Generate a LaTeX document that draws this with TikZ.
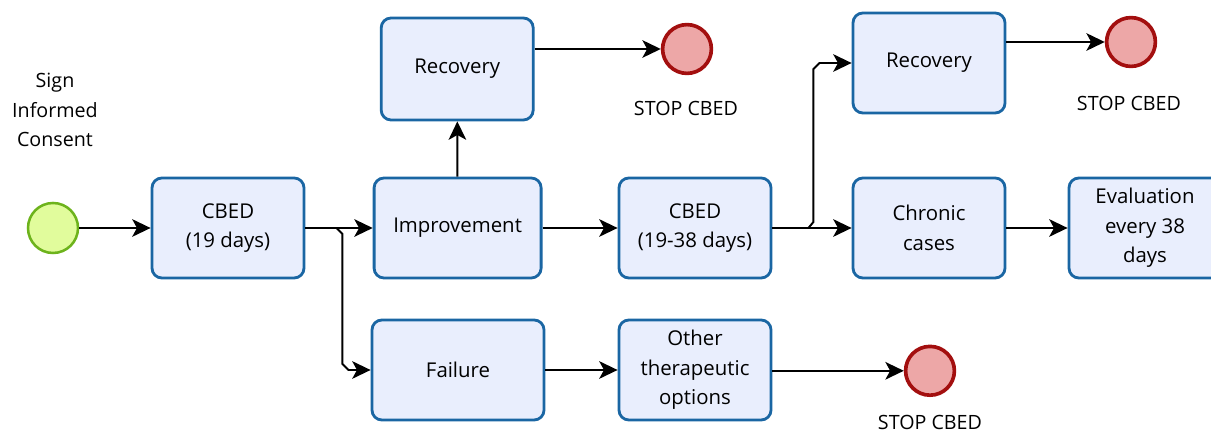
\documentclass[tikz,border=0pt]{standalone}
\usepackage{fontspec}
\setmainfont{Open Sans}
\usepackage{tikz}
\usetikzlibrary{arrows.meta, positioning, calc}
\usepackage{xcolor}
\definecolor{boxfill}{HTML}{E9EEFD}
\definecolor{boxline}{HTML}{1A66A3}
\definecolor{startfill}{HTML}{E1FC9C}
\definecolor{startline}{HTML}{6DB31C}
\definecolor{stopfill}{HTML}{EDA7A7}
\definecolor{stopline}{HTML}{A30F0F}

\begin{document}
\begin{tikzpicture}[
    task/.style={draw=boxline, fill=boxfill, line width=2pt, rounded corners=7pt,
                 minimum width=3.8cm, minimum height=2.5cm, align=center,
                 font=\fontsize{14.5}{21}\selectfont},
    startev/.style={circle, draw=startline, fill=startfill, line width=1.8pt, minimum size=1.25cm},
    stopev/.style={circle, draw=stopline, fill=stopfill, line width=2.6pt, minimum size=1.22cm},
    lbl/.style={align=center, font=\fontsize{14}{21}\selectfont},
    arrow/.style={-{Stealth[length=0.46cm, width=0.44cm, inset=0.12cm]}, line width=1.4pt}
]
    \useasboundingbox (0,0) rectangle (30.275,-10.925);

    \node[startev] (start) at (1.325, -5.7) {};
    \node[lbl] (consent) at (1.375, -2.75) {Sign\\Informed\\Consent};

    \node[task] (cbed1) at (5.7, -5.7) {CBED\\(19 days)};
    \node[task, minimum width=4.175cm] (improve) at (11.44, -5.7) {Improvement};
    \node[task, minimum height=2.55cm] (rec1) at (11.43, -1.725) {Recovery};
    \node[task] (cbed2) at (17.375, -5.7) {CBED\\(19-38 days)};
    \node[task, minimum width=4.3cm] (failure) at (11.45, -9.25) {Failure};
    \node[task] (other) at (17.375, -9.25) {Other\\therapeutic\\options};
    \node[task] (rec2) at (23.225, -1.575) {Recovery};
    \node[task] (chronic) at (23.225, -5.7) {Chronic\\cases};
    \node[task] (eval) at (28.625, -5.7) {Evaluation\\every 38\\days};

    \node[stopev] (stop1) at (17.175, -1.225) {};
    \node[stopev] (stop2) at (28.275, -1.05) {};
    \node[stopev] (stop3) at (23.25, -9.27) {};
    \node[lbl] (stoplbl1) at (17.15, -2.7) {STOP CBED};
    \node[lbl] (stoplbl2) at (28.225, -2.575) {STOP CBED};
    \node[lbl] (stoplbl3) at (23.25, -10.55) {STOP CBED};

    % flow
    \draw[arrow] (start) -- (cbed1);
    \draw[arrow] (cbed1) -- (improve);
    \draw[arrow] (cbed1.east) -- ++(0.775,0) -- ++(0.15,-0.15) -- ++(0,-3.25) -- ++(0.15,-0.15) -- (failure.west);
    \draw[arrow] (improve) -- (rec1);
    \draw[arrow] (rec1.east |- stop1) -- (stop1);
    \draw[arrow] (improve) -- (cbed2);
    \draw[arrow] (cbed2) -- (chronic);
    \draw[arrow] (cbed2.east) -- ++(0.9,0) -- ++(0.125,0.15) -- ++(0,3.825) -- ++(0.15,0.15) -- (rec2.west);
    \draw[arrow] (rec2.east |- stop2) -- (stop2);
    \draw[arrow] (chronic) -- (eval);
    \draw[arrow] (failure) -- (other);
    \draw[arrow] (other.east |- stop3) -- (stop3);
\end{tikzpicture}
\end{document}
